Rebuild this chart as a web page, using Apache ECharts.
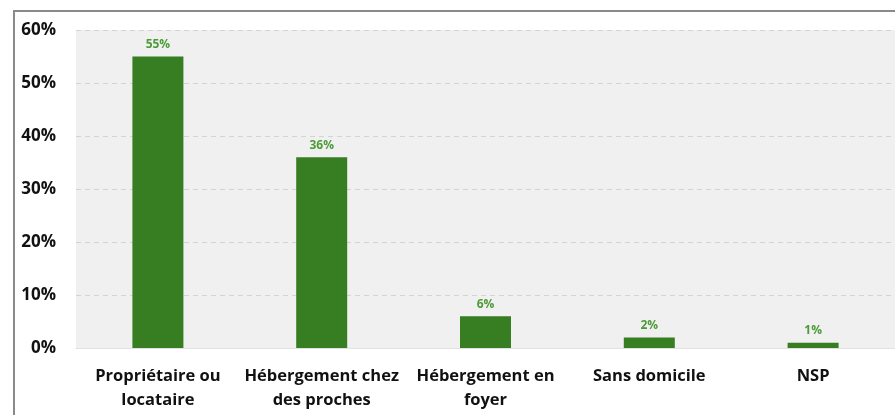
<!DOCTYPE html>
<html>
<head>
<meta charset="utf-8">
<script src="https://cdn.jsdelivr.net/npm/echarts@6/dist/echarts.min.js"></script>
<style>
html,body{margin:0;padding:0;background:#fff;}
#wrap{position:absolute;left:13px;top:10px;width:900px;height:420px;border-left:2px solid #8a8a8a;border-top:2px solid #8a8a8a;}
#main{position:absolute;left:0;top:0;width:895px;height:415px;}
</style>
</head>
<body>
<div id="wrap"></div>
<div id="main"></div>
<script>
var categories = ['Propriétaire ou\nlocataire', 'Hébergement chez\ndes proches', 'Hébergement en\nfoyer', 'Sans domicile', 'NSP'];
var values = [55, 36, 6, 2, 1];
var yTicks = [0, 10, 20, 30, 40, 50, 60];

var myChart = echarts.init(document.getElementById('main'));
var option = {
    textStyle: { fontFamily: 'Open Sans' },
    grid: {
        left: 76,
        right: -1,
        top: 30,
        bottom: 67,
        show: true,
        backgroundColor: '#f0f0f0',
        borderWidth: 0
    },
    xAxis: {
        type: 'category',
        data: categories,
        axisLine: { show: true, lineStyle: { color: '#e2e2e2', width: 1 } },
        axisTick: { show: false },
        axisLabel: {
            color: '#111',
            fontWeight: 'bold',
            fontSize: 16.5,
            lineHeight: 24,
            margin: 16,
            interval: 0
        }
    },
    yAxis: {
        type: 'value',
        min: yTicks[0],
        max: yTicks[yTicks.length - 1],
        interval: 10,
        axisLine: { show: false },
        axisTick: { show: false },
        splitLine: { lineStyle: { color: '#d3d3d3', type: [5, 4], width: 1 } },
        axisLabel: {
            color: '#111',
            fontWeight: 'bold',
            fontSize: 17,
            margin: 20,
            formatter: '{value}%'
        }
    },
    series: [
        {
            type: 'bar',
            data: values,
            barWidth: 51,
            itemStyle: { color: '#377d22' },
            label: {
                show: true,
                position: 'top',
                distance: 6,
                color: '#4c9a38',
                fontWeight: 'bold',
                fontSize: 12,
                formatter: '{c}%'
            }
        }
    ]
};
myChart.setOption(option);
window.addEventListener('resize', function () {
    myChart.resize();
});
</script>
</body>
</html>
